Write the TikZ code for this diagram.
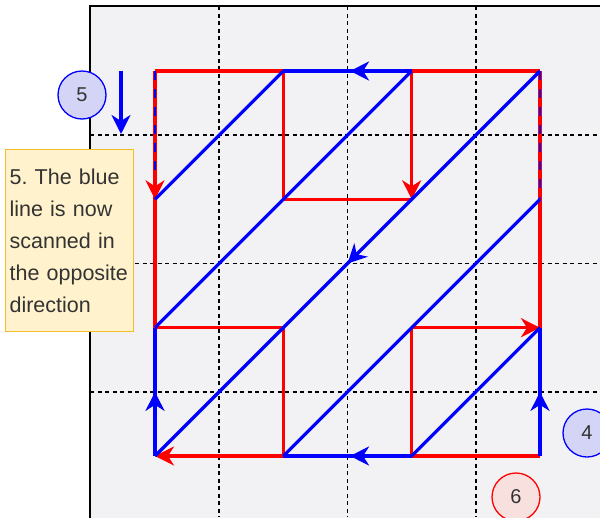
\documentclass[tikz,border=0pt]{standalone}
\usepackage{fontspec}
\setmainfont{Liberation Sans}
\usetikzlibrary{arrows.meta,decorations.markings,calc}
\definecolor{bg}{RGB}{242,242,245}
\definecolor{rd}{RGB}{255,0,0}
\definecolor{bl}{RGB}{0,0,255}
\definecolor{lav}{RGB}{212,212,247}
\definecolor{pinkf}{RGB}{248,224,222}
\definecolor{notefill}{RGB}{255,242,204}
\definecolor{notedraw}{RGB}{242,190,40}
\definecolor{txt}{RGB}{51,51,51}
\frenchspacing
\begin{document}
\begin{tikzpicture}[x=1pt,y=-1pt,
  redl/.style={rd, line width=3.4pt},
  bluel/.style={bl, line width=3.2pt},
  gridl/.style={black, line width=1.3pt, dash pattern=on 4pt off 3.5pt},
  tipa/.style={-{Stealth[length=19pt,width=19pt,inset=6pt]}},
  midarr/.style={postaction={decorate}, decoration={markings, mark=at position #1 with {\arrow{Stealth[length=19pt,width=19pt,inset=6pt]}}}},
  overdash/.style={bl, line width=2.4pt, dash pattern=on 9pt off 9pt},
  badge/.style={circle, minimum size=48pt, inner sep=0pt, line width=1.3pt, text=txt, font=\fontsize{20}{20}\selectfont},
  notebox/.style={draw=notedraw, fill=notefill, line width=1.2pt, anchor=north west, minimum width=128pt, minimum height=182pt, inner xsep=4pt, inner ysep=0pt, text width=120pt, align=left, text=txt, font=\fontsize{21.5}{32}\selectfont}]
\useasboundingbox (0,0) rectangle (600,517);
\clip (0,0) rectangle (600,517);
% frame
\fill[bg] (90,6) rectangle (620,540);
\draw[black, line width=2pt] (90,540) -- (90,6) -- (620,6);
% grid
\foreach \gx in {219,347.5,476} \draw[gridl] (\gx,6) -- (\gx,517);
\foreach \gy in {135,263.5,392} \draw[gridl] (90,\gy) -- (600,\gy);
% corner coordinates
\coordinate (p00) at (155,71);    \coordinate (p10) at (283.3,71);
\coordinate (p20) at (411.7,71);  \coordinate (p30) at (540,71);
\coordinate (p01) at (155,199.3); \coordinate (p11) at (283.3,199.3);
\coordinate (p21) at (411.7,199.3); \coordinate (p31) at (540,199.3);
\coordinate (p02) at (155,327.7); \coordinate (p12) at (283.3,327.7);
\coordinate (p22) at (411.7,327.7); \coordinate (p32) at (540,327.7);
\coordinate (p03) at (155,456);   \coordinate (p13) at (283.3,456);
\coordinate (p23) at (411.7,456); \coordinate (p33) at (540,456);
\coordinate (p01u) at (155,177.3);
% red lines
\draw[redl] (p00) -- (p10);
\draw[redl] (p20) -- (p30);
\draw[redl] (p00) -- (p01);
\draw[redl] (p01) -- (p02);
\draw[redl] (p10) -- (p11) -- (p21);
\draw[redl, tipa] (p20) -- (p21);
\draw[redl] (p02) -- (p12) -- (p13);
\draw[redl, tipa] (p13) -- (p03);
\draw[redl] (p23) -- (p33);
\draw[redl] (p30) -- (p31);
\draw[redl] (p31) -- (p32);
\draw[redl, tipa] (p22) -- (p32);
\draw[redl] (p22) -- (p23);
% blue dashes over red
\draw[overdash] (p00) -- (p01u);
\draw[overdash] (p30) -- (p31);
\draw[redl, tipa] (p01u) -- (p01);
% blue lines
\draw[bluel, midarr=0.48] (p20) -- (p10);
\draw[bluel, midarr=0.5] (p03) -- (p02);
\draw[bluel, midarr=0.5] (p33) -- (p32);
\draw[bluel, midarr=0.48] (p23) -- (p13);
\draw[bluel] (p01) -- (p10);
\draw[bluel] (p02) -- (p20);
\draw[bluel, midarr=0.5] (p30) -- (p03);
\draw[bluel] (p13) -- (p31);
\draw[bluel] (p23) -- (p32);
% standalone arrow
\coordinate (a5s) at (121,71);
\coordinate (a5e) at (121,134);
\draw[bluel, tipa] (a5s) -- (a5e);
% badges
\node[badge, draw=bl, fill=lav] (b5) at (82,95) {5};
\node[badge, draw=bl, fill=lav] (b4) at (587,433) {4};
\node[badge, draw=rd, fill=pinkf] (b6) at (516,497) {6};
% note
\node[notebox] (note) at (5,149) {5. The blue\\line is now\\scanned in\\the opposite\\direction};
\end{tikzpicture}
\end{document}
